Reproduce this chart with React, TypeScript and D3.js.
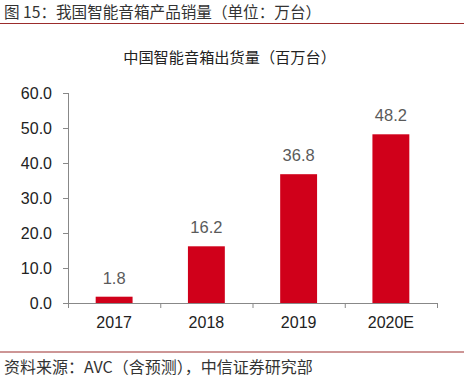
import React from "react";
import * as d3 from "d3";

const categories = ["2017", "2018", "2019", "2020E"];
const values = [1.8, 16.2, 36.8, 48.2];
const yTicks = [0, 10, 20, 30, 40, 50, 60];

const W = 464, H = 382;
const left = 68, right = 437, top = 93, bottom = 303;
const FONT = "'Liberation Sans', Arial, 'Noto Sans CJK SC', sans-serif";
const CJK = "'Noto Sans CJK SC', sans-serif";

export default function App() {
  const x = d3.scaleBand<string>().domain(categories).range([left, right]).paddingInner(0.6).paddingOuter(0.3);
  const y = d3.scaleLinear().domain([0, 60]).range([bottom, top]);
  const bandEdges = d3.range(categories.length + 1).map((i) => left + ((right - left) / categories.length) * i);
  return (
    <svg width={W} height={H} style={{ position: "absolute", left: 0, top: 0, background: "#fff" }}>
      <text x={4} y={18} fontSize={15.6} fontFamily={CJK} fill="#333">图 15：我国智能音箱产品销量（单位：万台）</text>
      <line x1={0} x2={W} y1={23.5} y2={23.5} stroke="#9b2c2c" strokeWidth={1} />
      <text x={229.5} y={63} fontSize={15.2} fontFamily={CJK} fill="#222" textAnchor="middle">中国智能音箱出货量（百万台）</text>
      {/* y axis */}
      <line x1={left + 0.5} x2={left + 0.5} y1={top} y2={bottom} stroke="#888" />
      {yTicks.map((t) => (
        <g key={t}>
          <line x1={left - 5} x2={left} y1={y(t) + 0.5} y2={y(t) + 0.5} stroke="#888" />
          <text x={52} y={y(t) + 6} fontSize={16} fontFamily={FONT} fill="#222" textAnchor="end">{t.toFixed(1)}</text>
        </g>
      ))}
      {/* x axis */}
      <line x1={left} x2={right} y1={bottom + 0.5} y2={bottom + 0.5} stroke="#888" />
      {bandEdges.map((e, i) => (
        <line key={i} x1={e + 0.5} x2={e + 0.5} y1={bottom} y2={bottom + 5} stroke="#888" />
      ))}
      {categories.map((c, i) => (
        <g key={c}>
          <rect x={x(c)} y={y(values[i])} width={x.bandwidth()} height={bottom - y(values[i])} fill="#d0001a" />
          <text x={x(c)! + x.bandwidth() / 2} y={y(values[i]) - 13} fontSize={16.5} fontFamily={FONT} fill="#5a5a5a" textAnchor="middle">{values[i].toFixed(1)}</text>
          <text x={x(c)! + x.bandwidth() / 2} y={328} fontSize={16} fontFamily={FONT} fill="#222" textAnchor="middle">{c}</text>
        </g>
      ))}
      <line x1={0} x2={W} y1={352} y2={352} stroke="#9b2c2c" strokeWidth={1} />
      <text x={4} y={373} fontSize={16} fontFamily={CJK} fill="#333">资料来源：AVC（含预测），中信证券研究部</text>
    </svg>
  );
}
